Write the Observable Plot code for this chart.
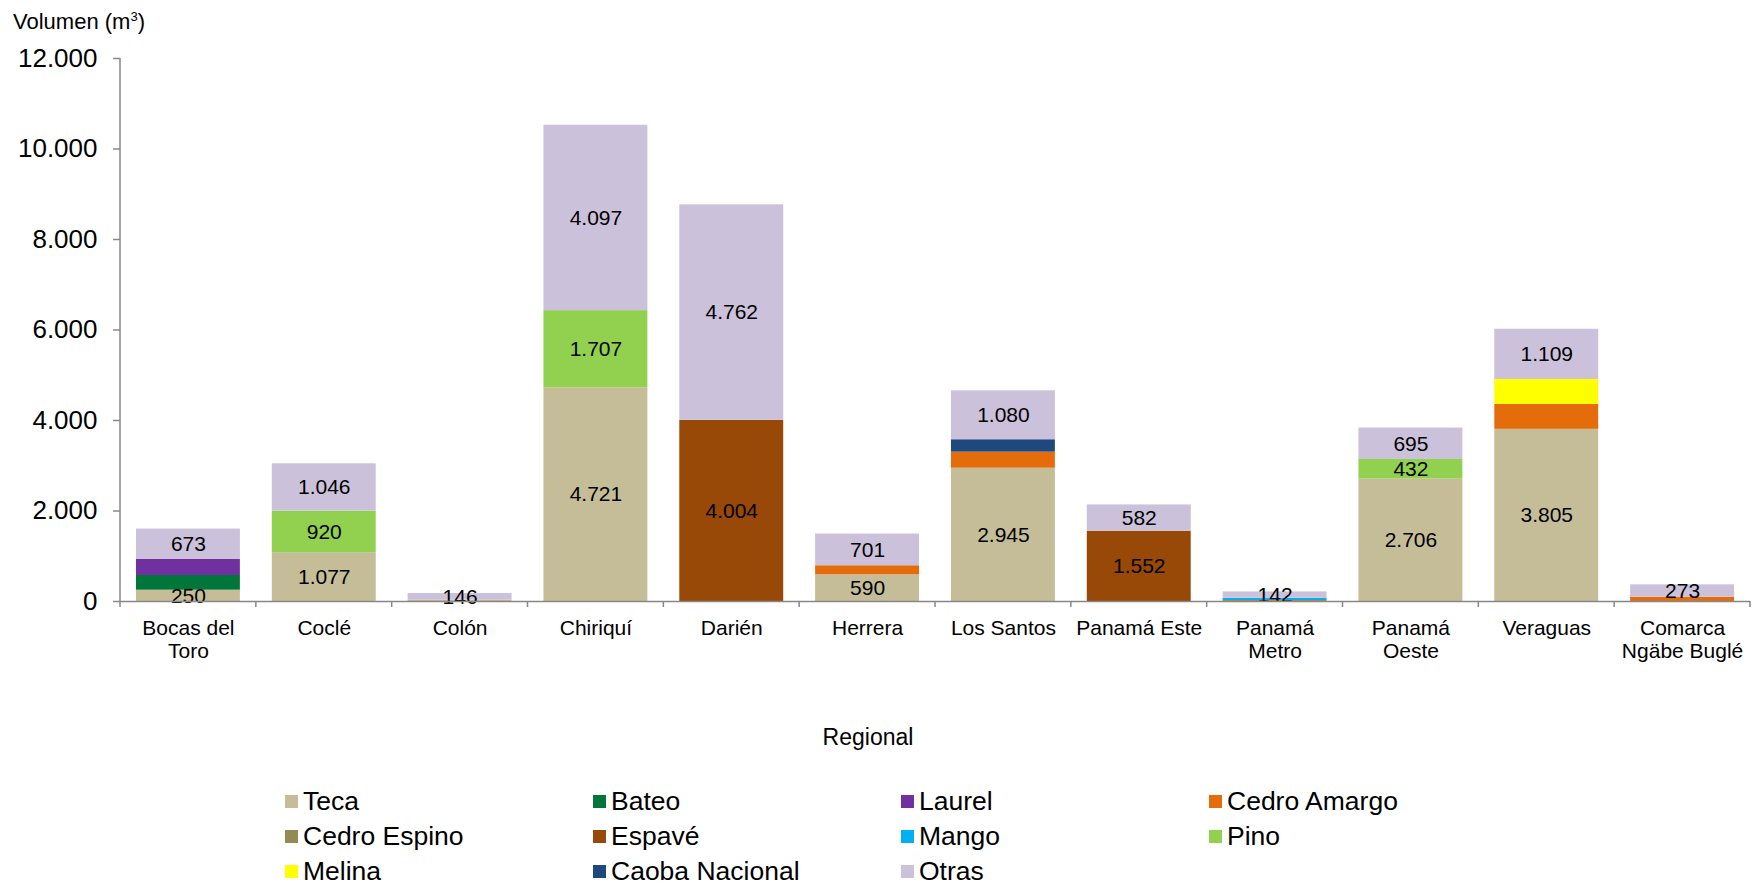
<!DOCTYPE html>
<html>
<head>
<meta charset="utf-8">
<script src="https://cdn.jsdelivr.net/npm/d3@7"></script>
<script src="https://cdn.jsdelivr.net/npm/@observablehq/plot@0.6"></script>
<style>
  html, body { margin: 0; padding: 0; background: #fff; }
  #wrap { position: relative; width: 1763px; height: 886px; font-family: "Liberation Sans", Arial, sans-serif; color: #000; }
  #ytitle { position: absolute; left: 13px; top: 5px; font-size: 22px; line-height: 24px; }
  #ytitle sup { font-size: 13px; }
  #xtitle { position: absolute; left: 668px; width: 400px; top: 723px; text-align: center; font-size: 23px; line-height: 28px; }
  #legend { position: absolute; left: 285px; top: 784px; display: grid; grid-template-columns: repeat(4, 308px); grid-auto-rows: 35px; font-size: 26.5px; }
  .item { display: flex; align-items: center; white-space: nowrap; }
  .sw { width: 13px; height: 13px; margin-right: 5px; flex: none; }
</style>
</head>
<body>
<div id="wrap">
  <div id="chart"></div>
  <div id="ytitle">Volumen (m<sup>3</sup>)</div>
  <div id="xtitle">Regional</div>
  <div id="legend"></div>
</div>
<script>
// Categories
const regions = ["Bocas del Toro","Coclé","Colón","Chiriquí","Darién","Herrera","Los Santos","Panamá Este","Panamá Metro","Panamá Oeste","Veraguas","Comarca Ngäbe Buglé"];
const regionLabels = ["Bocas del\nToro","Coclé","Colón","Chiriquí","Darién","Herrera","Los Santos","Panamá Este","Panamá\nMetro","Panamá\nOeste","Veraguas","Comarca\nNgäbe Buglé"];

// Species (stack order bottom to top) and colours
const species = ["Teca","Bateo","Laurel","Cedro Amargo","Cedro Espino","Espavé","Mango","Pino","Melina","Caoba Nacional","Otras"];
const colors  = ["#C4BD97","#00763A","#7030A0","#E46C0A","#948A54","#984807","#00B0F0","#92D050","#FFFF00","#1F497D","#CCC1DA"];
const labeledSpecies = ["Teca","Espavé","Pino","Otras"];

// Series values (m3) per region, same order as regions
const teca         = [250, 1077, 30, 4721, 0, 590, 2945, 0, 0, 2706, 3805, 0];
const bateo        = [325, 0, 0, 0, 0, 0, 0, 0, 0, 0, 0, 0];
const laurel       = [353, 0, 0, 0, 0, 0, 0, 0, 0, 0, 0, 0];
const cedroAmargo  = [0, 0, 0, 0, 0, 200, 355, 0, 20, 0, 550, 95];
const cedroEspino  = [0, 0, 0, 0, 0, 0, 0, 0, 0, 0, 0, 0];
const espave       = [0, 0, 0, 0, 4004, 0, 0, 1552, 0, 0, 0, 0];
const mango        = [0, 0, 0, 0, 0, 0, 0, 0, 50, 0, 0, 0];
const pino         = [0, 920, 0, 1707, 0, 0, 0, 0, 0, 432, 0, 0];
const melina       = [0, 0, 0, 0, 0, 0, 0, 0, 0, 0, 552, 0];
const caobaNacional= [0, 0, 0, 0, 0, 0, 275, 0, 0, 0, 0, 0];
const otras        = [673, 1046, 146, 4097, 4762, 701, 1080, 582, 142, 695, 1109, 273];

const yTicks = [0, 2000, 4000, 6000, 8000, 10000, 12000];

const seriesBySpecies = [teca, bateo, laurel, cedroAmargo, cedroEspino, espave, mango, pino, melina, caobaNacional, otras];

const data = [];
species.forEach((s, si) => {
  regions.forEach((r, ri) => {
    data.push({region: r, species: s, value: seriesBySpecies[si][ri]});
  });
});

const es = d3.formatLocale({decimal: ",", thousands: ".", grouping: [3], currency: ["", "€"]});
const fmt = es.format(",.0f");
const labelOf = new Map(regions.map((r, i) => [r, regionLabels[i]]));

const W = 1763, H = 680;
const gray = "#888888";

// Category boundary ticks and the y axis line, derived from the scales
function axisDecor(index, scales, values, dimensions) {
  const g = d3.create("svg:g");
  const x = scales.x, y = scales.y;
  const step = x.step(), bw = x.bandwidth();
  const y0 = y(0), yTop = y(d3.max(yTicks));
  const bounds = regions.map(r => x(r) + bw / 2 - step / 2);
  bounds.push(x(regions[regions.length - 1]) + bw / 2 + step / 2);
  g.selectAll("line.tk").data(bounds).join("line")
    .attr("x1", d => d).attr("x2", d => d)
    .attr("y1", y0).attr("y2", y0 + 6)
    .attr("stroke", gray).attr("stroke-width", 1.5);
  g.append("line")
    .attr("x1", bounds[0]).attr("x2", bounds[0])
    .attr("y1", yTop).attr("y2", y0)
    .attr("stroke", gray).attr("stroke-width", 1.5);
  return g.node();
}

const chart = Plot.plot({
  width: W,
  height: H,
  marginTop: 58,
  marginLeft: 120,
  marginRight: 13,
  marginBottom: 79,
  style: {fontFamily: "'Liberation Sans', Arial, sans-serif", background: "#fff", color: "#000"},
  x: {domain: regions, paddingInner: 0.235, paddingOuter: 0.1175, align: 0.5, round: false, label: null},
  y: {domain: [0, 12000], label: null},
  color: {domain: species, range: colors},
  marks: [
    Plot.barY(data, Plot.stackY({x: "region", y: "value", fill: "species", order: species})),
    Plot.text(data, Plot.stackY({
      x: "region", y: "value", z: "species", order: species,
      text: d => (labeledSpecies.includes(d.species) && d.value >= 100) ? fmt(d.value) : null,
      fontSize: 21, fill: "#000"
    })),
    Plot.ruleY([0], {stroke: gray, strokeWidth: 1.5}),
    Plot.axisY({ticks: yTicks, tickFormat: fmt, tickSize: 7, tickPadding: 16, fontSize: 26, stroke: gray, strokeWidth: 1.5, fill: "#000", label: null}),
    Plot.axisX({tickSize: 0, tickPadding: 17, fontSize: 21, lineHeight: 1.1, tickFormat: r => labelOf.get(r), fill: "#000", label: null}),
    axisDecor
  ]
});
document.getElementById("chart").appendChild(chart);

// Legend built from species/colours
const legend = d3.select("#legend");
species.forEach((s, i) => {
  const it = legend.append("div").attr("class", "item");
  it.append("span").attr("class", "sw").style("background", colors[i]);
  it.append("span").text(s);
});
</script>
</body>
</html>
